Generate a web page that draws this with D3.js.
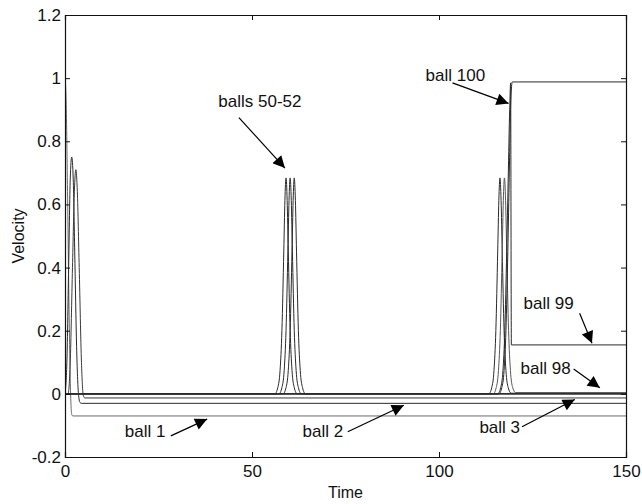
<!DOCTYPE html>
<html>
<head>
<meta charset="utf-8">
<script src="https://cdn.jsdelivr.net/npm/d3@7"></script>
<style>
  html, body { margin: 0; padding: 0; background: #fff; }
  svg { display: block; font-family: "Liberation Sans", Arial, Helvetica, sans-serif; }
</style>
</head>
<body>
<svg id="chart" width="642" height="504"></svg>
<script>
// Axis setup
const xTicks = [0, 50, 100, 150];
const xTickLabels = ["0", "50", "100", "150"];
const yTicks = [-0.2, 0, 0.2, 0.4, 0.6, 0.8, 1, 1.2];
const yTickLabels = ["-0.2", "0", "0.2", "0.4", "0.6", "0.8", "1", "1.2"];

// Velocity traces (time, velocity) for the selected balls
const ball1T = [0, 0.3, 0.7, 1.1, 1.5, 1.8, 2.1, 150];
const ball1V = [1.0, 0.93, 0.62, 0.25, 0.0, -0.065, -0.07, -0.07];

const ball2T = [0, 0.5, 1.0, 1.4, 1.8, 2.2, 2.6, 3.1, 3.6, 4.0, 4.4, 150];
const ball2V = [0, 0.1, 0.42, 0.68, 0.75, 0.68, 0.45, 0.15, 0.0, -0.027, -0.03, -0.03];

const ball3T = [0, 0.8, 1.4, 2.0, 2.5, 2.9, 3.3, 3.8, 4.4, 4.9, 5.3, 150];
const ball3V = [0, 0, 0.1, 0.4, 0.64, 0.71, 0.64, 0.4, 0.1, -0.005, -0.013, -0.013];

const ball50T = [0, 56.1, 56.9, 57.5, 58.0, 58.5, 58.8, 59.1, 59.4, 59.7, 60.2, 60.7, 61.3, 62.1, 150];
const ball50V = [0, 0, 0.02, 0.074, 0.201, 0.452, 0.613, 0.684, 0.613, 0.452, 0.201, 0.074, 0.02, 0, 0];

const ball51T = [0, 57.2, 58.0, 58.6, 59.1, 59.6, 59.9, 60.2, 60.5, 60.8, 61.3, 61.8, 62.4, 63.2, 150];
const ball51V = [0, 0, 0.02, 0.074, 0.201, 0.452, 0.613, 0.684, 0.613, 0.452, 0.201, 0.074, 0.02, 0, 0];

const ball52T = [0, 58.3, 59.1, 59.7, 60.2, 60.7, 61.0, 61.3, 61.6, 61.9, 62.4, 62.9, 63.5, 64.3, 150];
const ball52V = [0, 0, 0.02, 0.074, 0.201, 0.452, 0.613, 0.684, 0.613, 0.452, 0.201, 0.074, 0.02, 0, 0];

const ball97T = [0, 113.3, 114.1, 114.7, 115.2, 115.7, 116.0, 116.3, 116.6, 116.9, 117.4, 117.9, 118.5, 119.3, 150];
const ball97V = [0, 0, 0.02, 0.074, 0.201, 0.452, 0.613, 0.684, 0.613, 0.452, 0.201, 0.074, 0.02, 0.002, 0.002];

const ball98T = [0, 114.5, 115.3, 115.9, 116.4, 116.9, 117.2, 117.5, 117.8, 118.1, 118.6, 119.1, 119.7, 120.5, 150];
const ball98V = [0, 0, 0.02, 0.074, 0.201, 0.452, 0.613, 0.684, 0.613, 0.452, 0.201, 0.074, 0.02, 0.004, 0.004];

const ball99T = [0, 115.7, 116.5, 117.1, 117.6, 118.1, 118.5, 118.9, 119.15, 119.35, 150];
const ball99V = [0, 0, 0.02, 0.074, 0.2, 0.45, 0.68, 0.9, 0.985, 0.155, 0.155];

const ball100T = [0, 116.0, 116.8, 117.4, 117.9, 118.4, 118.8, 119.2, 119.6, 150];
const ball100V = [0, 0, 0.02, 0.074, 0.2, 0.45, 0.7, 0.93, 0.988, 0.988];

// Annotations: label text, anchor of text, arrow start and arrow tip (in data units)
const noteLabels = ["balls 50-52", "ball 100", "ball 99", "ball 98", "ball 1", "ball 2", "ball 3"];
const noteTextT = [41.0, 96.4, 122.6, 121.8, 16.0, 63.5, 110.8];
const noteTextV = [0.91, 0.99, 0.27, 0.063, -0.136, -0.136, -0.124];
const noteFromT = [46.5, 103.6, 137.6, 136.0, 28.3, 75.6, 122.2];
const noteFromV = [0.875, 0.985, 0.255, 0.079, -0.133, -0.12, -0.104];
const noteToT = [58.8, 118.6, 140.9, 143.0, 38.0, 90.6, 136.3];
const noteToV = [0.715, 0.92, 0.16, 0.019, -0.08, -0.036, -0.018];

const series = [
  { t: ball1T, v: ball1V, color: "#6a6a6a" },
  { t: ball2T, v: ball2V, color: "#2a2a2a" },
  { t: ball3T, v: ball3V, color: "#3a3a3a" },
  { t: ball50T, v: ball50V, color: "#2a2a2a" },
  { t: ball51T, v: ball51V, color: "#2a2a2a" },
  { t: ball52T, v: ball52V, color: "#2a2a2a" },
  { t: ball97T, v: ball97V, color: "#2a2a2a" },
  { t: ball98T, v: ball98V, color: "#555555" },
  { t: ball99T, v: ball99V, color: "#2a2a2a" },
  { t: ball100T, v: ball100V, color: "#2a2a2a" }
];

const svg = d3.select("#chart");
const plotLeft = 65, plotRight = 626, plotTop = 15, plotBottom = 457;

const x = d3.scaleLinear().domain([0, 150]).range([plotLeft, plotRight]);
const y = d3.scaleLinear().domain([-0.2, 1.2]).range([plotBottom, plotTop]);

// Traces
const line = d3.line()
  .x(d => x(d[0]))
  .y(d => y(d[1]))
  .curve(d3.curveMonotoneX);

svg.append("clipPath").attr("id", "plotclip")
  .append("rect").attr("x", plotLeft).attr("y", plotTop)
  .attr("width", plotRight - plotLeft).attr("height", plotBottom - plotTop);
const gLines = svg.append("g").attr("clip-path", "url(#plotclip)");

series.forEach(s => {
  const pts = s.t.map((t, i) => [t, s.v[i]]);
  gLines.append("path")
    .datum(pts)
    .attr("d", line)
    .attr("fill", "none")
    .attr("stroke", s.color)
    .attr("stroke-width", 1);
});

// Axes with inward ticks on all four sides
const fontSize = 17;
const axB = svg.append("g").attr("transform", `translate(0,${plotBottom})`)
  .call(d3.axisBottom(x).tickValues(xTicks).tickFormat((d, i) => xTickLabels[i]).tickSize(-5).tickPadding(8));
const axT = svg.append("g").attr("transform", `translate(0,${plotTop})`)
  .call(d3.axisTop(x).tickValues(xTicks).tickFormat("").tickSize(-5));
const axL = svg.append("g").attr("transform", `translate(${plotLeft},0)`)
  .call(d3.axisLeft(y).tickValues(yTicks).tickFormat((d, i) => yTickLabels[i]).tickSize(-5).tickPadding(4));
const axR = svg.append("g").attr("transform", `translate(${plotRight},0)`)
  .call(d3.axisRight(y).tickValues(yTicks).tickFormat("").tickSize(-5));

[axB, axT, axL, axR].forEach(g => {
  g.select(".domain").attr("stroke", "#111").attr("stroke-width", 1.2);
  g.selectAll(".tick line").attr("stroke", "#111").attr("stroke-width", 1);
  g.selectAll(".tick text").attr("fill", "#111").style("font-size", fontSize + "px")
    .style("font-family", '"Liberation Sans", Arial, sans-serif');
});

// Axis titles
svg.append("text")
  .attr("x", (plotLeft + plotRight) / 2).attr("y", 498)
  .attr("text-anchor", "middle")
  .style("font-size", "16px").attr("fill", "#111")
  .text("Time");
svg.append("text")
  .attr("transform", `translate(24,${(plotTop + plotBottom) / 2}) rotate(-90)`)
  .attr("text-anchor", "middle")
  .style("font-size", "16px").attr("fill", "#111")
  .text("Velocity");

// Arrow annotations
const defs = svg.append("defs");
defs.append("marker")
  .attr("id", "head")
  .attr("viewBox", "0 0 10 10")
  .attr("refX", 10).attr("refY", 5)
  .attr("markerUnits", "userSpaceOnUse")
  .attr("markerWidth", 16).attr("markerHeight", 12)
  .attr("orient", "auto")
  .append("path").attr("d", "M0,0 L10,5 L0,10 Z").attr("fill", "#000");

noteLabels.forEach((lab, i) => {
  svg.append("line")
    .attr("x1", x(noteFromT[i])).attr("y1", y(noteFromV[i]))
    .attr("x2", x(noteToT[i])).attr("y2", y(noteToV[i]))
    .attr("stroke", "#000").attr("stroke-width", 1.2)
    .attr("marker-end", "url(#head)");
  svg.append("text")
    .attr("x", x(noteTextT[i])).attr("y", y(noteTextV[i]))
    .style("font-size", fontSize + "px").attr("fill", "#111")
    .text(lab);
});
</script>
</body>
</html>
